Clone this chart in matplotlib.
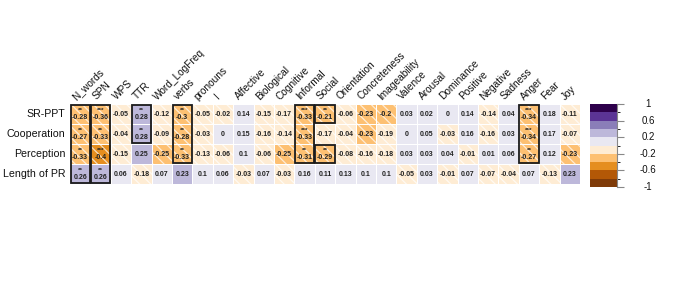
import numpy as np
import matplotlib
matplotlib.use("Agg")
import matplotlib.pyplot as plt
from matplotlib.colors import ListedColormap, BoundaryNorm
from matplotlib.patches import Rectangle
from matplotlib.cm import ScalarMappable
from matplotlib.transforms import blended_transform_factory

plt.rcParams['font.family'] = ['Liberation Sans', 'DejaVu Sans']

columns = ["N_words", "SPN", "WPS", "TTR", "Word_LogFreq", "verbs", "pronouns", "I",
           "Affective", "Biological", "Cognitive", "Informal", "Social", "Orientation",
           "Concreteness", "Imageability", "Valence", "Arousal", "Dominance", "Positive",
           "Negative", "Sadness", "Anger", "Fear", "Joy"]
rows = ["SR-PPT", "Cooperation", "Perception", "Length of PR"]

sr_ppt = [-0.28, -0.36, -0.05, 0.28, -0.12, -0.3, -0.05, -0.02, 0.14, -0.15, -0.17, -0.33, -0.21,
          -0.06, -0.23, -0.2, 0.03, 0.02, 0, 0.14, -0.14, 0.04, -0.34, 0.18, -0.11]
cooperation = [-0.27, -0.33, -0.04, 0.28, -0.09, -0.28, -0.03, 0, 0.15, -0.16, -0.14, -0.33, -0.17,
               -0.04, -0.23, -0.19, 0, 0.05, -0.03, 0.16, -0.16, 0.03, -0.34, 0.17, -0.07]
perception = [-0.33, -0.4, -0.15, 0.25, -0.25, -0.33, -0.13, -0.06, 0.1, -0.06, -0.25, -0.31, -0.29,
              -0.08, -0.16, -0.18, 0.03, 0.03, 0.04, -0.01, 0.01, 0.06, -0.27, 0.12, -0.23]
length_pr = [0.26, 0.26, 0.06, -0.18, 0.07, 0.23, 0.1, 0.06, -0.03, 0.07, -0.03, 0.16, 0.11,
             0.13, 0.1, 0.1, -0.05, 0.03, -0.01, 0.07, -0.07, -0.04, 0.07, -0.13, 0.23]

# significance stars per row, keyed by column
stars_sr_ppt = {"N_words": "**", "SPN": "***", "TTR": "**", "verbs": "**",
                "Informal": "***", "Social": "**", "Anger": "***"}
stars_cooperation = {"N_words": "**", "SPN": "**", "TTR": "**", "verbs": "**",
                     "Informal": "***", "Anger": "***"}
stars_perception = {"N_words": "**", "SPN": "***", "verbs": "**",
                    "Informal": "**", "Social": "**", "Anger": "**"}
stars_length_pr = {"N_words": "**", "SPN": "**"}

cbar_ticks = [1, 0.6, 0.2, -0.2, -0.6, -1]
cbar_ticklabels = ["1", "0.6", "0.2", "-0.2", "-0.6", "-1"]

values = np.array([sr_ppt, cooperation, perception, length_pr])
stars = [stars_sr_ppt, stars_cooperation, stars_perception, stars_length_pr]

palette = ["#7f3b08", "#b35806", "#e58e1f", "#fdc072", "#feecd4",
           "#e9e8f2", "#bdb8da", "#8a7eb8", "#5b3495", "#2d004b"]
cmap = ListedColormap(palette)
bounds = np.linspace(-1, 1, 11)
norm = BoundaryNorm(bounds, cmap.N)

fig = plt.figure(figsize=(6.85, 2.96), dpi=100)
ax = fig.add_axes([70 / 685, 112 / 296, 510 / 685, 80 / 296])

nr, nc = values.shape
ax.pcolormesh(np.arange(nc + 1), np.arange(nr + 1), values, cmap=cmap, norm=norm,
              edgecolors="white", linewidth=0.6)
ax.set_xlim(0, nc)
ax.set_ylim(nr, 0)

plt.rcParams['hatch.linewidth'] = 0.9
for i in range(nr):
    for j in range(nc):
        v = values[i, j]
        if v < 0:
            ax.add_patch(Rectangle((j, i), 1, 1, facecolor="none", edgecolor="white",
                                   linewidth=0, hatch="\\\\\\", alpha=0.7))
        s = stars[i].get(columns[j], "")
        txt = f"{v:g}"
        if s:
            ax.text(j + 0.5, i + 0.34, s, ha="center", va="center", fontsize=4.6,
                    fontweight="bold", color="#222222")
            ax.text(j + 0.5, i + 0.66, txt, ha="center", va="center", fontsize=5,
                    fontweight="bold", color="#222222")
        else:
            ax.text(j + 0.5, i + 0.5, txt, ha="center", va="center", fontsize=5,
                    fontweight="bold", color="#222222")

# boxes around contiguous significant runs in each column
for j, col in enumerate(columns):
    i = 0
    while i < nr:
        if col in stars[i]:
            k = i
            while k + 1 < nr and col in stars[k + 1]:
                k += 1
            ax.add_patch(Rectangle((j + 0.03, i + 0.03), 0.94, k - i + 1 - 0.06, facecolor="none",
                                   edgecolor="#1a1a1a", linewidth=1.3, zorder=5))
            i = k + 1
        else:
            i += 1

ax.set_xticks([])
ax.set_yticks([])
for sp in ax.spines.values():
    sp.set_visible(False)

for i, r in enumerate(rows):
    ax.text(-0.22, i + 0.5, r, ha="right", va="center", fontsize=7.7, color="#111111")
for j, c in enumerate(columns):
    ax.text(j + 0.35, -0.12, c, ha="left", va="bottom", rotation=45,
            rotation_mode="anchor", fontsize=7.3, color="#111111")

cax = fig.add_axes([590 / 685, 109 / 296, 27 / 685, 83 / 296])
cb = fig.colorbar(ScalarMappable(norm=norm, cmap=cmap), cax=cax, ticks=cbar_ticks)
cb.outline.set_visible(False)
cax.set_yticklabels([])
cax.tick_params(axis="y", length=5, width=0.8, color="#888888")
cax.spines["right"].set_visible(True)
cax.spines["right"].set_color("#888888")
tr = blended_transform_factory(cax.transAxes, cax.transData)
for t, lab in zip(cbar_ticks, cbar_ticklabels):
    cax.text(2.15, t, lab, transform=tr, ha="center", va="center", fontsize=7,
             color="#111111", clip_on=False)

fig.savefig("out.png", dpi=100)
